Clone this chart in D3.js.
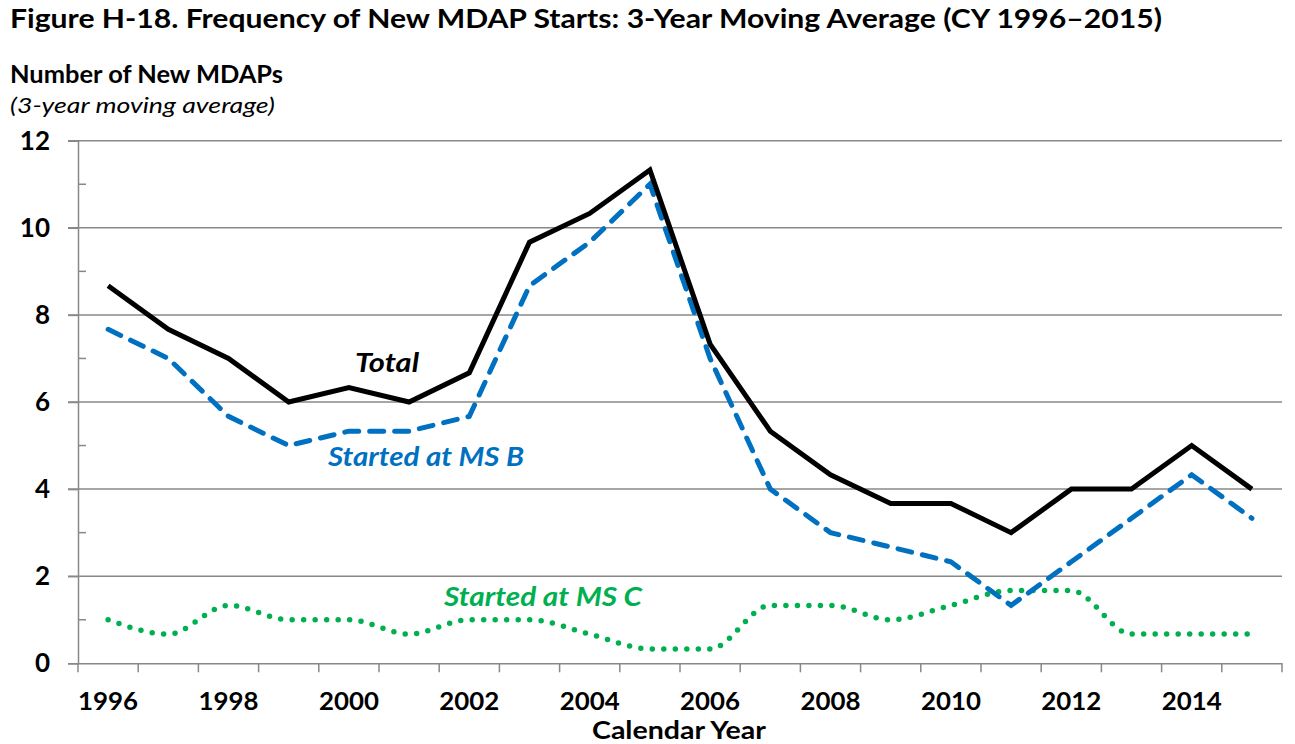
<!DOCTYPE html>
<html><head><meta charset="utf-8">
<script src="https://cdn.jsdelivr.net/npm/d3@7"></script>
<style>body{margin:0;background:#fff}svg{display:block}text{font-family:Lato,"Open Sans",sans-serif}</style>
</head><body>
<svg id="c" width="1295" height="744"></svg>
<script>
const years = d3.range(1996, 2016);
const yearLabels = [1996,1998,2000,2002,2004,2006,2008,2010,2012,2014];
const yTicks = [0,2,4,6,8,10,12];
const total = [8.67,7.67,7,6,6.33,6,6.67,9.67,10.33,11.33,7.33,5.33,4.33,3.67,3.67,3,4,4,5,4];
const msB   = [7.67,7,5.67,5,5.33,5.33,5.67,8.67,9.67,11,7,4,3,2.67,2.33,1.33,2.33,3.33,4.33,3.33];
const msC   = [1,0.67,1.33,1,1,0.67,1,1,0.67,0.33,0.33,1.33,1.33,1,1.33,1.67,1.67,0.67,0.67,0.67];

const svg = d3.select("#c");
const L=78,R=1282,T=140.7,B=663.3;
const x = d3.scaleBand().domain(years).range([L,R]);
const y = d3.scaleLinear().domain([0,12]).range([B,T]);
const cx = d => x(d)+x.bandwidth()/2;

// gridlines
svg.append("g").selectAll("line").data(yTicks.filter(v=>v>0)).join("line")
  .attr("x1",68).attr("x2",R).attr("y1",d=>y(d)).attr("y2",d=>y(d))
  .attr("stroke","#888").attr("stroke-width",1.5);
// minor ticks
svg.append("g").selectAll("line").data([1,3,5,7,9,11]).join("line")
  .attr("x1",L).attr("x2",L+8).attr("y1",d=>y(d)).attr("y2",d=>y(d))
  .attr("stroke","#888").attr("stroke-width",1.5);
// y axis
const ya = svg.append("g").attr("transform",`translate(${L},0)`)
  .call(d3.axisLeft(y).tickValues(yTicks).tickSize(10).tickPadding(18));
ya.select(".domain").attr("stroke","#888").attr("stroke-width",1.5);
ya.selectAll(".tick line").attr("stroke","#888").attr("stroke-width",1.5);
ya.selectAll("text").attr("font-size",26).attr("font-weight","bold").attr("fill","#000").attr("font-family","Lato");
// x axis
const xa = svg.append("g").attr("transform",`translate(0,${B})`)
  .call(d3.axisBottom(x).tickValues([]).tickSize(0));
xa.select(".domain").attr("stroke","#888").attr("stroke-width",1.5);
svg.append("g").selectAll("line").data(years.concat([null])).join("line")
  .attr("x1",d=>d===null?R:x(d)).attr("x2",d=>d===null?R:x(d))
  .attr("y1",B).attr("y2",B+9).attr("stroke","#888").attr("stroke-width",1.5);
svg.append("g").selectAll("text").data(yearLabels).join("text")
  .attr("x",d=>cx(d)).attr("y",710).attr("text-anchor","middle")
  .attr("font-size",24).attr("font-weight","bold")
  .attr("textLength",60).attr("lengthAdjust","spacingAndGlyphs").text(d=>d);

// lines
const line = d3.line().x((d,i)=>cx(years[i])).y(d=>y(d));
svg.append("path").attr("d",line.curve(d3.curveMonotoneX)(msC)).attr("fill","none")
  .attr("stroke","#00B050").attr("stroke-width",5.5).attr("stroke-linecap","round").attr("stroke-dasharray","0 11.5");
svg.append("path").attr("d",line.curve(d3.curveLinear)(msB)).attr("fill","none")
  .attr("stroke","#0070C0").attr("stroke-width",5).attr("stroke-linecap","round").attr("stroke-dasharray","14 11");
svg.append("path").attr("d",line.curve(d3.curveLinear)(total)).attr("fill","none")
  .attr("stroke","#000").attr("stroke-width",5).attr("stroke-linejoin","miter");

// annotations
function note(t,x0,y0,w,c){
  svg.append("text").attr("x",x0).attr("y",y0).attr("font-size",26).attr("font-weight","bold")
    .attr("font-style","italic").attr("fill",c).attr("textLength",w).attr("lengthAdjust","spacingAndGlyphs").text(t);
}
note("Total",355,372,64,"#000");
note("Started at MS B",328,466,196,"#0070C0");
note("Started at MS C",444,606,198,"#00B050");

// titles
svg.append("text").attr("x",10).attr("y",28).attr("font-size",27).attr("font-weight","bold")
  .attr("textLength",1152).attr("lengthAdjust","spacingAndGlyphs")
  .text("Figure H-18. Frequency of New MDAP Starts: 3-Year Moving Average (CY 1996–2015)");
svg.append("text").attr("x",10).attr("y",83).attr("font-size",25).attr("font-weight","bold")
  .attr("textLength",273).attr("lengthAdjust","spacingAndGlyphs").text("Number of New MDAPs");
svg.append("text").attr("x",10).attr("y",113).attr("font-size",22).attr("font-style","italic")
  .attr("textLength",265).attr("lengthAdjust","spacingAndGlyphs").text("(3-year moving average)");
svg.append("text").attr("x",679).attr("y",739).attr("text-anchor","middle").attr("font-size",24).attr("font-weight","bold")
  .attr("textLength",174).attr("lengthAdjust","spacingAndGlyphs").text("Calendar Year");
</script>
</body></html>
